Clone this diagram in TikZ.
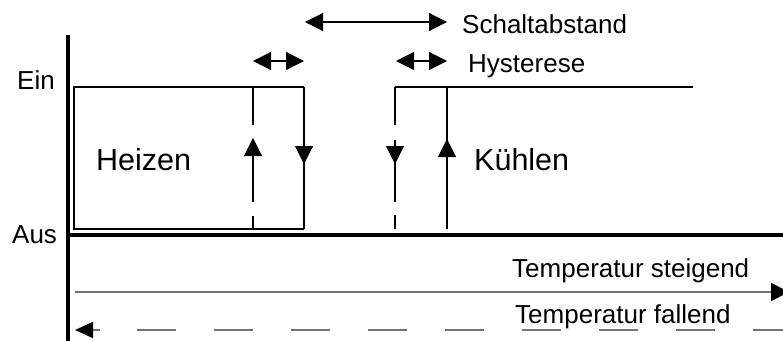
\documentclass[tikz,border=0pt]{standalone}
\usepackage{fontspec}
\setmainfont{Liberation Sans}
\usetikzlibrary{arrows.meta}
\begin{document}
\begin{tikzpicture}[x=1pt,y=-1pt,
  thin line/.style={line width=1.1pt,draw=black},
  axis line/.style={line width=4pt,draw=black},
  tip/.style={-{Triangle[length=18pt,width=18pt,color=black]}},
  tips/.style={{Triangle[length=18pt,width=18pt,color=black]}-{Triangle[length=18pt,width=18pt,color=black]}},
  big label/.style={anchor=base west,inner sep=0pt,font=\fontsize{30.5}{31}\selectfont},
  small label/.style={anchor=base west,inner sep=0pt,font=\fontsize{26}{27}\selectfont},
  gray line/.style={line width=1.6pt,draw=black!55}]
\useasboundingbox (0,0) rectangle (783,340);
% axes
\coordinate (ytop) at (68,35);
\coordinate (ybot) at (68,342);
\coordinate (xl) at (66,235);
\coordinate (xr) at (785,235);
\draw[axis line] (ytop) -- (ybot);
\draw[axis line] (xl) -- (xr);
% Heizen box
\coordinate (h1) at (74,87);
\coordinate (h2) at (304,87);
\coordinate (h3) at (304,229);
\coordinate (h4) at (74,229);
\draw[thin line] (h2) -- (h1) -- (h4) -- (h3);
\draw[thin line] (h2) -- (h3);
\draw[thin line,tip] (304,140) -- (304,164);
% dashed left switching line of Heizen (x=253)
\draw[thin line] (253,87) -- (253,125);
\draw[thin line,tip] (253,202) -- (253,138);
\draw[thin line] (253,216) -- (253,229);
% Kuehlen
\coordinate (k1) at (395,87);
\coordinate (k2) at (693,87);
\draw[thin line] (k1) -- (k2);
\draw[thin line] (395,87) -- (395,125);
\draw[thin line,tip] (395,140) -- (395,164);
\draw[thin line] (395,163) -- (395,202);
\draw[thin line] (395,215) -- (395,229);
\draw[thin line] (447,87) -- (447,229);
\draw[thin line,tip] (447,170) -- (447,139);
% hysteresis and switching distance
\coordinate (ha) at (253,61);
\coordinate (hb) at (304,61);
\coordinate (hc) at (396,61);
\coordinate (hd) at (447,61);
\draw[thin line,tips] (ha) -- (hb);
\draw[thin line,tips] (hc) -- (hd);
\coordinate (sa) at (305,22);
\coordinate (sb) at (447,22);
\draw[thin line,tips] (sa) -- (sb);
% temperature lines
\coordinate (tl) at (75,292);
\coordinate (tr) at (789,292);
\draw[gray line,-{Triangle[length=18pt,width=18pt,color=black]}] (tl) -- (tr);
\coordinate (fl) at (75,330);
\coordinate (fm) at (100,330);
\coordinate (fs) at (137,330);
\coordinate (fr) at (800,330);
\draw[gray line,-{Triangle[length=18pt,width=16pt,color=black]}] (fm) -- (fl);
\draw[gray line,dash pattern=on 39pt off 38pt] (fs) -- (fr);
% labels
\node[small label] (ein) at (17,89) {Ein};
\node[small label] (aus) at (12,243) {Aus};
\node[big label] (heizen) at (96,170) {Heizen};
\node[big label] (kuehlen) at (474,170) {Kühlen};
\node[small label] (schalt) at (462,33) {Schaltabstand};
\node[small label] (hyst) at (468,72) {Hysterese};
\node[small label] (steig) at (512,277) {Temperatur steigend};
\node[small label] (fall) at (515,323) {Temperatur fallend};
\end{tikzpicture}
\end{document}
